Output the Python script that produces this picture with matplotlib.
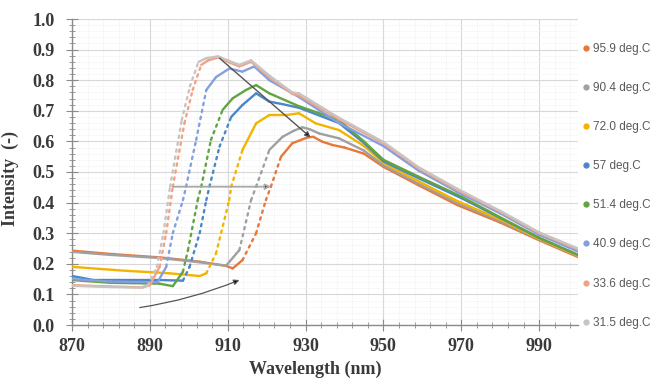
import matplotlib
matplotlib.use("Agg")
import matplotlib.pyplot as plt
import numpy as np
from matplotlib.collections import LineCollection
from matplotlib.lines import Line2D

# legend labels and colours (legend order)
labels = ["95.9 deg.C", "90.4 deg.C", "72.0 deg.C", "57 deg.C",
          "51.4 deg.C", "40.9 deg.C", "33.6 deg.C", "31.5 deg.C"]
colors = ["#E8773A", "#A0A0A0", "#F2B400", "#4A86C8",
          "#62A43F", "#849FDF", "#F2A283", "#C9C4C4"]

# spectra: wavelength (nm) / intensity (-)
wl_959 = [870, 880, 892.5, 902.8, 909.6, 911.3, 913.8, 917.3, 919.8, 921.1, 923.7,
          926.6, 930.5, 932, 934.3, 937, 940, 945, 950, 959, 969, 980, 990, 1000]
i_959 = [0.243, 0.232, 0.221, 0.207, 0.193, 0.185, 0.212, 0.30, 0.408, 0.452, 0.55,
         0.594, 0.613, 0.615, 0.599, 0.588, 0.58, 0.56, 0.517, 0.457, 0.392, 0.335, 0.277, 0.222]

wl_904 = [870, 880, 892.5, 902.8, 909.6, 913, 916, 917.3, 920.7, 924.1, 927, 929.2,
          931, 933.5, 938.6, 945, 950, 959, 969, 980, 990, 1000]
i_904 = [0.239, 0.229, 0.219, 0.205, 0.194, 0.245, 0.408, 0.452, 0.572, 0.615, 0.635, 0.646,
         0.64, 0.626, 0.61, 0.57, 0.522, 0.462, 0.398, 0.34, 0.28, 0.225]

wl_720 = [870, 884, 895, 902.8, 904.5, 907, 910.4, 910.9, 913.8, 917.3, 920.7, 925,
          928.3, 932.6, 938.6, 945, 950, 959, 969, 980, 990, 1000]
i_720 = [0.19, 0.177, 0.169, 0.16, 0.169, 0.234, 0.408, 0.452, 0.572, 0.659, 0.686, 0.686,
         0.692, 0.659, 0.637, 0.585, 0.53, 0.47, 0.405, 0.345, 0.282, 0.226]

wl_570 = [870, 875.5, 892.5, 898.5, 900.2, 902.8, 904.5, 905.3, 907.9, 910.9, 913.8, 917.3,
          920.7, 924, 928.3, 938.6, 945, 950, 959, 970, 980, 990, 1000]
i_570 = [0.16, 0.147, 0.147, 0.145, 0.19, 0.30, 0.408, 0.452, 0.583, 0.68, 0.719, 0.757,
         0.73, 0.722, 0.71, 0.66, 0.595, 0.535, 0.48, 0.415, 0.35, 0.285, 0.229]

wl_514 = [870, 879.7, 892.5, 895.9, 898.5, 899.8, 902.3, 903.2, 905.7, 908.7, 911.3, 914.7,
          917.3, 920.7, 928.3, 938.6, 945, 950, 959, 970, 980, 990, 1000]
i_514 = [0.147, 0.138, 0.135, 0.127, 0.174, 0.245, 0.408, 0.452, 0.605, 0.703, 0.741, 0.768,
         0.784, 0.757, 0.715, 0.67, 0.6, 0.54, 0.485, 0.42, 0.352, 0.285, 0.229]

wl_409 = [870, 880, 892, 894.2, 895.9, 898.5, 899.3, 901.9, 904.5, 907, 910.4, 913.8,
          916.8, 920.7, 928.3, 938.6, 950, 959, 969, 980, 990, 1000]
i_409 = [0.15, 0.142, 0.14, 0.19, 0.30, 0.408, 0.452, 0.605, 0.768, 0.81, 0.838, 0.828,
         0.845, 0.8, 0.745, 0.66, 0.585, 0.505, 0.435, 0.365, 0.295, 0.24]

wl_336 = [870, 880, 888.2, 890, 892.5, 894.2, 895.9, 898.9, 901, 903.2, 905, 907.9, 910,
          913, 916, 920.7, 926.6, 928.3, 938.6, 950, 959, 969, 980, 990, 1000]
i_336 = [0.13, 0.126, 0.123, 0.13, 0.19, 0.30, 0.452, 0.66, 0.768, 0.85, 0.865, 0.875, 0.86,
         0.845, 0.86, 0.81, 0.755, 0.75, 0.672, 0.594, 0.512, 0.441, 0.37, 0.30, 0.247]

wl_315 = [870, 880, 887.5, 889.5, 891.8, 893.5, 895.2, 898.2, 900.3, 902.5, 904.5, 907.5, 910,
          913, 916, 920.7, 926.6, 928.3, 938.6, 950, 959, 969, 980, 990, 1000]
i_315 = [0.128, 0.124, 0.122, 0.13, 0.19, 0.30, 0.452, 0.67, 0.78, 0.86, 0.872, 0.878, 0.865,
         0.85, 0.865, 0.815, 0.76, 0.757, 0.677, 0.598, 0.516, 0.445, 0.373, 0.303, 0.25]

series = [(wl_959, i_959), (wl_904, i_904), (wl_720, i_720), (wl_570, i_570),
          (wl_514, i_514), (wl_409, i_409), (wl_336, i_336), (wl_315, i_315)]

serif = "Liberation Serif"
tick_col = "#3A3A3A"

fig = plt.figure(figsize=(6.52, 3.78), dpi=100)
ax = fig.add_axes([72 / 652, 1 - 325 / 378, (578 - 72) / 652, (325 - 19) / 378])

for k, (wl, inten) in enumerate(series):
    pts = np.column_stack([wl, inten])
    segs = np.stack([pts[:-1], pts[1:]], axis=1)
    slope = np.diff(inten) / np.diff(wl)
    # steep parts look dotted in the original (sparse markers)
    styles = [(0, (1, 2)) if s > 0.025 else "solid" for s in slope]
    lc = LineCollection(segs, colors=colors[k], linewidths=1.7,
                        linestyles=styles, zorder=3 + k, capstyle="round")
    ax.add_collection(lc)

# arrows
arr = dict(arrowstyle="-|>", mutation_scale=8, fc="black", shrinkA=0, shrinkB=0)
ax.annotate("", xy=(931.3, 0.613), xytext=(907.9, 0.872),
            arrowprops=dict(arr, color="#555555", lw=1.0), zorder=20)
ax.annotate("", xy=(921.1, 0.452), xytext=(895.9, 0.452),
            arrowprops=dict(arr, color="#A8A8A8", lw=1.3), zorder=20)
ax.annotate("", xy=(913.0, 0.147), xytext=(887.4, 0.057),
            arrowprops=dict(arr, color="#555555", lw=0.9,
                            connectionstyle="arc3,rad=0.06"), zorder=20)

ax.set_xlim(870, 1000)
ax.set_ylim(0, 1.0)
ax.set_xticks(range(870, 1001, 20))
ax.set_xticks(np.arange(870, 1001, 4), minor=True)
ax.set_yticks(np.arange(0, 1.01, 0.1))
ax.set_yticks(np.arange(0, 1.01, 0.02), minor=True)
ax.set_yticklabels(["{:.1f}".format(v) for v in np.arange(0, 1.01, 0.1)])

ax.grid(which="major", color="#D8D8D8", lw=0.8)
ax.grid(which="minor", color="#EFEFEF", lw=0.6, ls=(0, (1, 1)))
ax.set_axisbelow(True)

for s in ["top", "right"]:
    ax.spines[s].set_visible(False)
for s in ["left", "bottom"]:
    ax.spines[s].set_color("#8A8A8A")
    ax.spines[s].set_linewidth(1.0)

ax.tick_params(which="major", direction="inout", length=9, color="#8A8A8A",
               labelsize=13, labelcolor=tick_col, pad=5)
ax.tick_params(which="minor", direction="inout", length=5, color="#8A8A8A")
ax.tick_params(axis="y", which="major", pad=8)
for t in ax.get_xticklabels() + ax.get_yticklabels():
    t.set_fontfamily(serif)
    t.set_fontweight("bold")

ax.set_xlabel("Wavelength (nm)", fontfamily=serif, fontweight="bold",
              fontsize=13, color=tick_col)
ax.xaxis.set_label_coords(0.48, -0.115)
ax.set_ylabel("Intensity  (-)", fontfamily=serif, fontweight="bold",
              fontsize=13, color=tick_col)
ax.yaxis.set_label_coords(-0.105, 0.48)

handles = [Line2D([], [], ls="none", marker="o", ms=3.5, color=c) for c in colors]
leg = fig.legend(handles, labels, loc="upper left", bbox_to_anchor=(578 / 652, 1 - 38 / 378),
                 frameon=False, labelspacing=2.3, handlelength=0.6, handletextpad=0.25,
                 borderaxespad=0, prop={"family": "Liberation Sans", "size": 8.5})
for t in leg.get_texts():
    t.set_color("#595959")

fig.savefig("out.png", dpi=100)
